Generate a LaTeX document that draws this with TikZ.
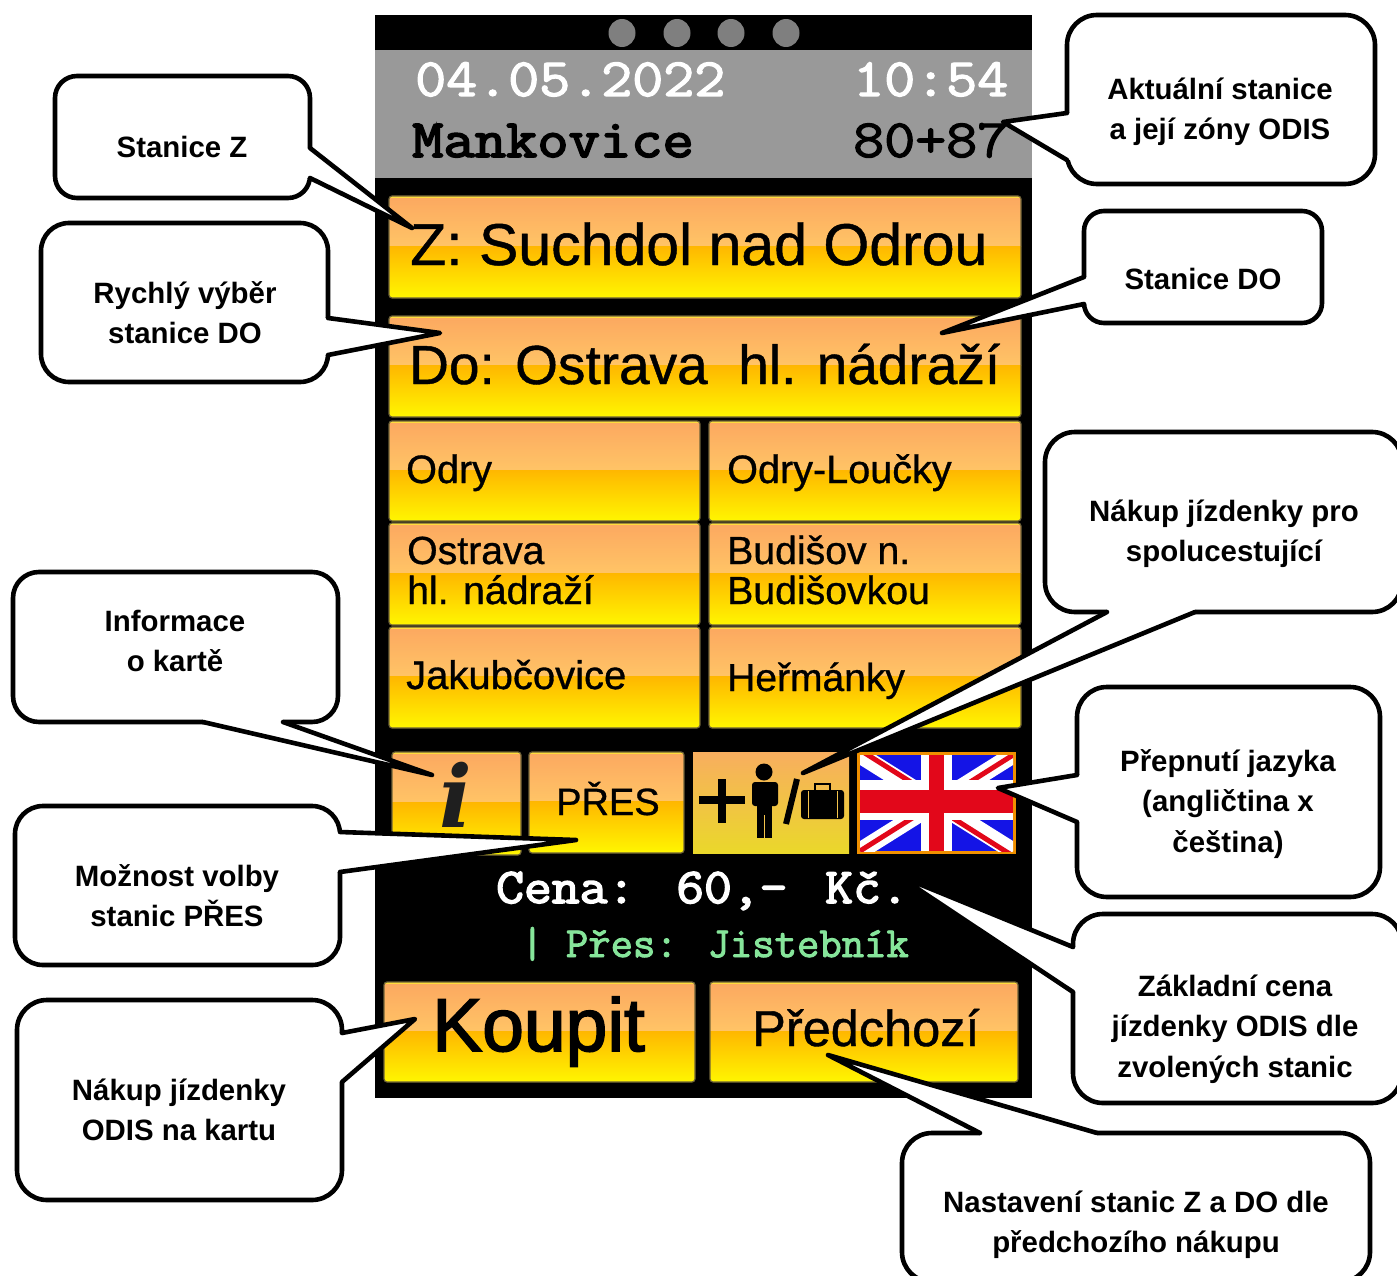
\documentclass[tikz,border=0pt]{standalone}
\usepackage{fontspec}
\setmainfont{Liberation Sans}
\newfontfamily\iconfont{DejaVu Serif}
\newfontfamily\lmono[FakeBold=2.2]{Latin Modern Mono}
\newfontfamily\lmonob[FakeBold=3]{Latin Modern Mono}
\newfontfamily\softbold[FakeBold=0.8]{Liberation Sans}
\newfontfamily\heavybold[FakeBold=2.2]{Liberation Sans}
\usetikzlibrary{calc}
\definecolor{btnA}{HTML}{FCA860}
\definecolor{btnB}{HTML}{FFC466}
\definecolor{btnC}{HTML}{FFB700}
\definecolor{btnD}{HTML}{FFF600}
\definecolor{btnEdge}{HTML}{6E6238}
\definecolor{scrGrey}{HTML}{999999}
\definecolor{dotGrey}{HTML}{7F7F7F}
\definecolor{viaGreen}{HTML}{86E59A}
\definecolor{flagBlue}{HTML}{1414E6}
\definecolor{flagRed}{HTML}{E2071A}
\definecolor{flagEdge}{HTML}{F09000}
\definecolor{compTop}{HTML}{F8AE5F}
\definecolor{compMid}{HTML}{F4C44C}
\definecolor{compBot}{HTML}{EAD82A}
\tikzset{
  x=1pt,y=-1pt,
  cbox/.style={draw=black,fill=white,line width=4.6pt,line join=round},
  wedgeline/.style={draw=black,line width=4.6pt,line join=round,line cap=round},
  clabel/.style={font=\fontsize{29.4}{40.3}\selectfont\bfseries,align=center,text=black,inner sep=0pt},
  btxt/.style={anchor=base west,inner sep=0pt,text=black},
  mono/.style={anchor=base west,inner sep=0pt},
}
\newcommand{\btn}[4]{%
  \pgfmathsetmacro{\ymid}{(#2+#4)/2-1}
  \begin{scope}
    \clip[rounded corners=3pt] (#1,#2) rectangle (#3,#4);
    \shade[top color=btnA,bottom color=btnB] (#1,#2) rectangle (#3,\ymid);
    \shade[top color=btnC,bottom color=btnD] (#1,\ymid) rectangle (#3,#4);
    \draw[btnB!60!yellow,line width=2pt] (#1,#2+1) -- (#3,#2+1);
  \end{scope}
  \draw[btnEdge,line width=1.2pt,rounded corners=3pt] (#1,#2) rectangle (#3,#4);
}
% box corners x1 y1 x2 y2, radius, pointer base point, tip, base point, inward vector
\newcommand{\callout}[9]{%
  \draw[cbox,rounded corners=#5pt] (#1,#2) rectangle (#3,#4);
  \fill[white] (#6) -- (#7) -- (#8) -- ($(#8)+(#9)$) -- ($(#6)+(#9)$) -- cycle;
  \draw[wedgeline] (#6) -- (#7) -- (#8);
}
\begin{document}
\begin{tikzpicture}
\useasboundingbox (0,0) rectangle (1397,1276);
\clip (0,0) rectangle (1397,1276);
\fill[white] (0,0) rectangle (1397,1276);
% screen
\fill[black] (375,15) rectangle (1032,1098);
\fill[scrGrey] (375,50) rectangle (1032,178);
\foreach \dx in {622,677,731,786} \fill[dotGrey] (\dx,33) ellipse (13.5 and 14);
\node[mono,text=white,font=\fontsize{54}{60}\selectfont\lmono] (date) at (415,96) {\scalebox{1.115}[1]{04.05.2022}};
\node[mono,text=white,font=\fontsize{54}{60}\selectfont\lmono] (time) at (853,96) {\scalebox{1.115}[1]{10:54}};
\node[mono,text=black,font=\fontsize{54}{60}\selectfont\lmonob] (stat) at (412,157) {\scalebox{1.125}[1]{Mankovice}};
\node[mono,text=black,font=\fontsize{54}{60}\selectfont\lmono] (zone) at (853,157) {\scalebox{1.115}[1]{80+87}};
% buttons
\btn{389}{196}{1021}{298}
\btn{389}{316}{1021}{417}
\btn{389}{421}{700}{521}
\btn{709}{421}{1021}{521}
\btn{389}{523}{700}{625}
\btn{709}{523}{1021}{625}
\btn{389}{627}{700}{728}
\btn{709}{627}{1021}{728}
\btn{392}{752}{521}{855}
\btn{529}{752}{684}{853}
\btn{384}{982}{695}{1082}
\btn{710}{982}{1018}{1082}
\node[btxt,font=\fontsize{59}{60}\selectfont\softbold] (bz) at (410,265) {Z: Suchdol nad Odrou};
\node[btxt,font=\fontsize{55}{60}\selectfont\softbold] (bdo) at (409,384) {Do: Ostrava\ \ hl. nádraží};
\node[btxt,font=\fontsize{39.6}{40}\selectfont\softbold] (b1) at (406,483) {Odry};
\node[btxt,font=\fontsize{39.6}{40}\selectfont\softbold] (b2) at (727,483) {Odry-Loučky};
\node[btxt,font=\fontsize{39.2}{40}\selectfont\softbold] (b3) at (407,564) {Ostrava};
\node[btxt,font=\fontsize{39.2}{40}\selectfont\softbold] (b3b) at (407,604) {hl. nádraží};
\node[btxt,font=\fontsize{39.2}{40}\selectfont\softbold] (b4) at (727,564) {Budišov n.};
\node[btxt,font=\fontsize{39.2}{40}\selectfont\softbold] (b4b) at (727,604) {Budišovkou};
\node[btxt,font=\fontsize{40}{40}\selectfont\softbold] (b5) at (406,689) {Jakubčovice};
\node[btxt,font=\fontsize{39}{40}\selectfont\softbold] (b6) at (727,691) {Heřmánky};
\node[btxt,font=\fontsize{38}{40}\selectfont\softbold] (bpres) at (556,815) {PŘES};
\node[btxt,font=\fontsize{75}{80}\selectfont\heavybold] (bkoupit) at (432,1051) {Koupit};
\node[btxt,font=\fontsize{50.5}{50}\selectfont\softbold] (bprev) at (752,1046) {Předchozí};
% info glyph
\node[btxt,text=black!88,font=\fontsize{86}{86}\selectfont\iconfont\bfseries\itshape] (binfo) at (439,827) {i};
% companion button
\shade[top color=compTop,middle color=compMid,bottom color=compBot] (693,752) rectangle (849,853);
\fill[black] (699,796) rectangle (745,804);
\fill[black] (718,779) rectangle (726,823);
\fill[black] (764,772) circle (8.5);
\fill[black,rounded corners=3pt] (752,782) rectangle (778,806);
\fill[black] (757,800) rectangle (772,838);
\fill[compMid] (763.8,815) rectangle (765.2,838);
\draw[black,line width=6pt] (797,779) -- (786,824);
\fill[black,rounded corners=3pt] (801,790) rectangle (844,819);
\draw[black,line width=2.5pt] (815,790) -- (815,784) -- (830,784) -- (830,790);
\draw[compMid,line width=1pt] (808,791) -- (808,818) (837,791) -- (837,818);
% flag
\fill[flagEdge] (857,752) rectangle (1016,854);
\begin{scope}
  \clip (860,755) rectangle (1013,851);
  \fill[flagBlue] (860,755) rectangle (1013,851);
  \draw[white,line width=17pt] (860,755) -- (1013,851) (860,851) -- (1013,755);
  \draw[flagRed,line width=5pt] (860,750) -- (925,791) (1013,856) -- (948,815);
  \draw[flagRed,line width=5pt] (860,851) -- (925,810) (1013,755) -- (948,796);
  \fill[white] (921,755) rectangle (952,851);
  \fill[white] (860,780) rectangle (1013,820);
  \fill[flagRed] (929,755) rectangle (944,851);
  \fill[flagRed] (860,790) rectangle (1013,813);
\end{scope}
% price
\node[mono,text=white,font=\fontsize{50}{54}\selectfont\lmonob] (price) at (496,903) {\scalebox{1.08}[1]{Cena:\hspace{38pt}60,-\hspace{35pt}Kč.}};
\node[mono,text=viaGreen,font=\fontsize{43}{44}\selectfont\lmono] (via) at (521,957) {\scalebox{1.01}[1]{| Přes: Jistebník}};
% callouts
\callout{55}{76}{310}{198}{22}{310,148}{412,228}{310,178}{-6,0}
\node[clabel] (c1) at (182,147) {Stanice Z};
\callout{1067}{15}{1375}{184}{30}{1067,113}{1003,122}{1067,160}{6,0}
\node[clabel] (c2) at (1220,112) {Aktuální stanice\\a její zóny ODIS};
\callout{41}{223}{328}{382}{28}{328,318}{440,333}{328,355}{-6,0}
\node[clabel] (c3) at (185,313) {Rychlý výběr\\stanice DO};
\callout{1084}{211}{1322}{323}{20}{1084,277}{942,333}{1084,304}{6,0}
\node[clabel] (c4) at (1203,279) {Stanice DO};
\callout{1045}{432}{1402}{612}{30}{1107,612}{803,773}{1195,612}{0,-6}
\node[clabel] (c5) at (1224,534) {Nákup jízdenky pro\\spolucestující};
\callout{13}{572}{338}{722}{26}{203,722}{432,775}{283,722}{0,-6}
\node[clabel] (c6) at (175,641) {Informace\\o kartě};
\callout{1077}{687}{1380}{897}{30}{1077,775}{998,788}{1077,822}{6,0}
\node[clabel] (c7) at (1228,804) {Přepnutí jazyka\\(angličtina x\\čeština)};
\callout{15}{806}{340}{965}{28}{340,832}{576,840}{340,872}{-6,0}
\node[clabel] (c8) at (177,896) {Možnost volby\\stanic PŘES};
\callout{1073}{914}{1402}{1103}{30}{1073,947}{897,875}{1073,992}{6,0}
\node[clabel] (c9) at (1235,1029) {Základní cena\\jízdenky ODIS dle\\zvolených stanic};
\callout{17}{1000}{342}{1200}{30}{342,1033}{415,1019}{342,1082}{-6,0}
\node[clabel] (c10) at (179,1110) {Nákup jízdenky\\ODIS na kartu};
\callout{902}{1133}{1370}{1282}{30}{980,1133}{828,1055}{1097,1133}{0,6}
\node[clabel] (c11) at (1136,1225) {Nastavení stanic Z a DO dle\\předchozího nákupu};
\end{tikzpicture}
\end{document}
